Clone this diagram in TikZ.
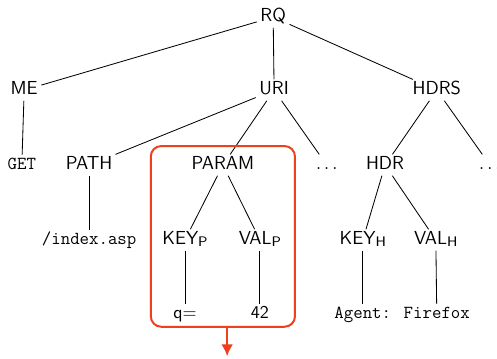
\documentclass[tikz,border=0pt]{standalone}
\usetikzlibrary{arrows.meta}

\definecolor{hlred}{RGB}{240,62,30}
\newcommand{\lowsub}[1]{{\fontsize{8.3}{9}\selectfont\raisebox{-0.35ex}{#1}}}

\begin{document}
\begin{tikzpicture}[
	tag/.style={inner sep=2pt, text height=1.6ex, text depth=0.35ex, font=\sffamily\fontsize{11.3}{13}\selectfont},
	leaf/.style={inner sep=2pt, text height=1.5ex, text depth=0.35ex, font=\ttfamily\fontsize{11}{13}\selectfont},
	small/.style={inner sep=2pt, text height=1.5ex, text depth=0.35ex, font=\sffamily\fontsize{10.8}{12}\selectfont},
	edge/.style={line width=0.5pt},
	hlbox/.style={draw=hlred, line width=1.2pt, rounded corners=0.22cm, minimum width=3.04cm, minimum height=3.81cm},
	hlarrow/.style={-{Latex[length=7pt, width=7pt]}, draw=hlred, line width=1.2pt}
	]
	
	\useasboundingbox (0,0) rectangle (10.48,-7.55);
	
	% Root
	\node[tag] (rq) at (5.76, -0.36) {RQ};
	
	% Level 1
	\node[tag] (me) at (0.51, -1.90) {ME};
	\node[tag] (uri) at (5.78, -1.90) {URI};
	\node[tag] (hdrs) at (9.21, -1.90) {HDRS};
	
	% Level 2
	\node[leaf] (get) at (0.46, -3.48) {GET};
	\node[tag] (path) at (1.88, -3.48) {PATH};
	\node[tag] (param) at (4.70, -3.48) {PARAM};
	\node[tag] (udots) at (6.89, -3.48) {$\ldots$};
	\node[tag] (hdr) at (8.12, -3.48) {HDR};
	\node[tag] (hdots) at (10.33, -3.48) {$\ldots$};
	
	% Level 3
	\node[leaf] (index) at (1.88, -5.06) {/index.asp};
	\node[tag] (keyp) at (3.90, -5.06) {KEY\lowsub{P}};
	\node[tag] (valp) at (5.48, -5.06) {VAL\lowsub{P}};
	\node[tag] (keyh) at (7.65, -5.06) {KEY\lowsub{H}};
	\node[tag] (valh) at (9.19, -5.06) {VAL\lowsub{H}};
	
	% Level 4
	\node[small] (q) at (3.90, -6.62) {q=};
	\node[small] (v42) at (5.48, -6.62) {42};
	\node[leaf] (agent) at (7.65, -6.62) {Agent:};
	\node[leaf] (firefox) at (9.21, -6.62) {Firefox};
	
	% Tree edges
	\foreach \a/\b in {rq/me, rq/uri, rq/hdrs, me/get, uri/path, uri/param, uri/udots,
		hdrs/hdr, hdrs/hdots, path/index, param/keyp, param/valp, hdr/keyh, hdr/valh,
		keyp/q, valp/v42, keyh/agent, valh/firefox}
		\draw[edge] (\a) -- (\b);
	
	% Highlighted subtree
	\node[hlbox] (box) at (4.70, -4.985) {};
	\coordinate (out) at (4.79, -7.51);
	\draw[hlarrow] (box.south -| out) -- (out);
	
\end{tikzpicture}
\end{document}
